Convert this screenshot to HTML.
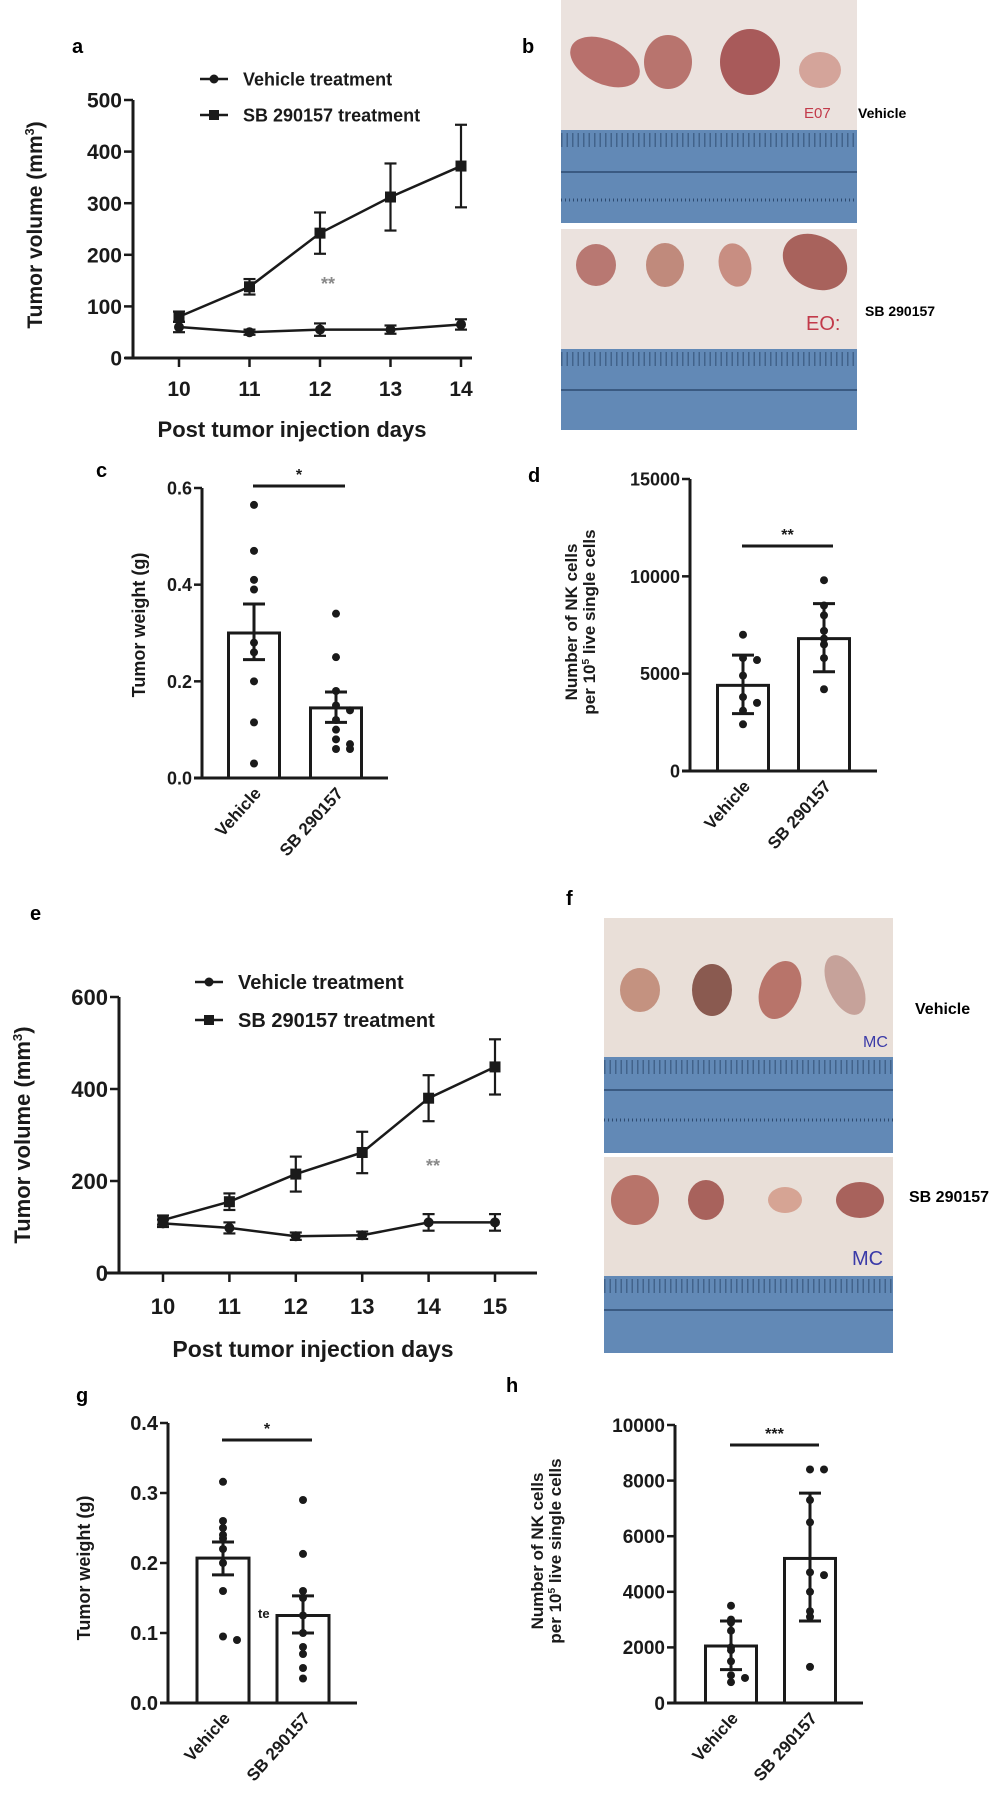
<!DOCTYPE html>
<html><head><meta charset="utf-8">
<style>
html,body{margin:0;padding:0;background:#fff;}
svg{display:block;font-family:"Liberation Sans",Arial,sans-serif;font-weight:bold;}
.n{font-family:"Liberation Sans Narrow","Liberation Sans",sans-serif;}
</style></head>
<body>
<svg id="fig" width="1003" height="1800" viewBox="0 0 1003 1800" xmlns="http://www.w3.org/2000/svg">
<text x="72" y="53" font-size="20">a</text>
<text x="522" y="53" font-size="20">b</text>
<text x="96" y="477" font-size="20">c</text>
<text x="528" y="482" font-size="20">d</text>
<text x="30" y="920" font-size="20">e</text>
<text x="566" y="905" font-size="20">f</text>
<text x="76" y="1402" font-size="20">g</text>
<text x="506" y="1392" font-size="20">h</text>

<g>
 <rect x="561" y="0" width="296" height="223" fill="#ebe2de"/>
 <rect x="561" y="130" width="296" height="93" fill="#6289b6"/>
 <line x1="561" y1="140" x2="857" y2="140" stroke="#2d4a70" stroke-width="14" stroke-dasharray="1.5 4" opacity="0.6"/>
 <line x1="561" y1="172" x2="857" y2="172" stroke="#2d4a70" stroke-width="1.5"/>
 <line x1="561" y1="200" x2="857" y2="200" stroke="#2d4a70" stroke-width="3" stroke-dasharray="1 3"/>
 <ellipse cx="605" cy="62" rx="37" ry="22" fill="#b8706c" transform="rotate(25 605 62)"/>
 <ellipse cx="668" cy="62" rx="24" ry="27" fill="#b8746e"/>
 <ellipse cx="750" cy="62" rx="30" ry="33" fill="#a85a5a"/>
 <ellipse cx="820" cy="70" rx="21" ry="18" fill="#d4a49a"/>
 <text x="804" y="118" font-size="15" fill="#c23a4a" font-weight="normal">E07</text>
 <rect x="561" y="229" width="296" height="201" fill="#ebe2de"/>
 <rect x="561" y="349" width="296" height="81" fill="#6289b6"/>
 <line x1="561" y1="359" x2="857" y2="359" stroke="#2d4a70" stroke-width="14" stroke-dasharray="1.5 4" opacity="0.6"/>
 <line x1="561" y1="390" x2="857" y2="390" stroke="#2d4a70" stroke-width="1.5"/>
 <ellipse cx="596" cy="265" rx="20" ry="21" fill="#b87872"/>
 <ellipse cx="665" cy="265" rx="19" ry="22" fill="#c08a7c"/>
 <ellipse cx="735" cy="265" rx="16" ry="22" fill="#c88e82" transform="rotate(-15 735 265)"/>
 <ellipse cx="815" cy="262" rx="34" ry="26" fill="#a8625c" transform="rotate(30 815 262)"/>
 <text x="806" y="330" font-size="20" fill="#c23a4a" font-weight="normal">EO:</text>
</g>
<text x="858" y="118" font-size="14">Vehicle</text>
<text x="865" y="316" font-size="14">SB 290157</text>

<g>
 <rect x="604" y="918" width="289" height="235" fill="#e9dfd8"/>
 <rect x="604" y="1057" width="289" height="96" fill="#6289b6"/>
 <line x1="604" y1="1067" x2="893" y2="1067" stroke="#2d4a70" stroke-width="14" stroke-dasharray="1.5 4" opacity="0.6"/>
 <line x1="604" y1="1090" x2="893" y2="1090" stroke="#2d4a70" stroke-width="1.5"/>
 <line x1="604" y1="1120" x2="893" y2="1120" stroke="#2d4a70" stroke-width="3" stroke-dasharray="1 3"/>
 <ellipse cx="640" cy="990" rx="20" ry="22" fill="#c49280"/>
 <ellipse cx="712" cy="990" rx="20" ry="26" fill="#8a5a50"/>
 <ellipse cx="780" cy="990" rx="20" ry="30" fill="#b8746a" transform="rotate(20 780 990)"/>
 <ellipse cx="845" cy="985" rx="17" ry="32" fill="#c6a29a" transform="rotate(-25 845 985)"/>
 <text x="863" y="1047" font-size="16" fill="#3a3aa8" font-weight="normal">MC</text>
 <rect x="604" y="1157" width="289" height="196" fill="#e9dfd8"/>
 <rect x="604" y="1276" width="289" height="77" fill="#6289b6"/>
 <line x1="604" y1="1286" x2="893" y2="1286" stroke="#2d4a70" stroke-width="14" stroke-dasharray="1.5 4" opacity="0.6"/>
 <line x1="604" y1="1310" x2="893" y2="1310" stroke="#2d4a70" stroke-width="1.5"/>
 <ellipse cx="635" cy="1200" rx="24" ry="25" fill="#b8746a"/>
 <ellipse cx="706" cy="1200" rx="18" ry="20" fill="#a8625c"/>
 <ellipse cx="785" cy="1200" rx="17" ry="13" fill="#d6a494"/>
 <ellipse cx="860" cy="1200" rx="24" ry="18" fill="#a8625c"/>
 <text x="852" y="1265" font-size="20" fill="#3a3aa8" font-weight="normal">MC</text>
</g>
<text x="915" y="1014" font-size="16">Vehicle</text>
<text x="909" y="1202" font-size="16">SB 290157</text>

<g id="charts"></g>
</svg>
<script>
const aDays = [10, 11, 12, 13, 14];
const aVehicle = [60, 50, 55, 55, 65];
const aVehicleErr = [10, 5, 12, 8, 10];
const aSB = [80, 138, 242, 312, 372];
const aSBErr = [10, 15, 40, 65, 80];
const aYTicks = [0, 100, 200, 300, 400, 500];
const eDays = [10, 11, 12, 13, 14, 15];
const eVehicle = [108, 98, 80, 82, 110, 110];
const eVehicleErr = [8, 12, 8, 8, 18, 18];
const eSB = [115, 155, 215, 262, 380, 448];
const eSBErr = [10, 18, 38, 45, 50, 60];
const eYTicks = [0, 200, 400, 600];
const cGroups = ["Vehicle", "SB 290157"];
const cMeans = [0.30, 0.145];
const cLow = [0.245, 0.115];
const cHigh = [0.36, 0.178];
const cDotsVehicle = [0.565, 0.47, 0.41, 0.39, 0.28, 0.26, 0.2, 0.115, 0.03];
const cDotsSB = [0.34, 0.25, 0.18, 0.15, 0.14, 0.12, 0.1, 0.08, 0.07, 0.06, 0.06];
const cYTicks = ["0.0", "0.2", "0.4", "0.6"];
const dMeans = [4400, 6800];
const dLow = [2950, 5100];
const dHigh = [5950, 8600];
const dDotsVehicle = [7000, 5800, 5700, 4900, 3800, 3500, 3100, 2400];
const dDotsSB = [9800, 8500, 8000, 7200, 6800, 6500, 5800, 4200];
const dYTicks = [0, 5000, 10000, 15000];
const gMeans = [0.207, 0.125];
const gLow = [0.183, 0.10];
const gHigh = [0.23, 0.153];
const gDotsVehicle = [0.316, 0.26, 0.25, 0.24, 0.235, 0.22, 0.2, 0.16, 0.095, 0.09];
const gDotsSB = [0.29, 0.213, 0.16, 0.15, 0.125, 0.1, 0.08, 0.07, 0.05, 0.035];
const gYTicks = ["0.0", "0.1", "0.2", "0.3", "0.4"];
const hMeans = [2050, 5200];
const hLow = [1200, 2950];
const hHigh = [2950, 7550];
const hDotsVehicle = [3500, 3000, 2900, 2600, 2000, 1900, 1500, 1000, 750, 900];
const hDotsSB = [8400, 8400, 7300, 6500, 4700, 4600, 4000, 3300, 3100, 1300];
const hYTicks = [0, 2000, 4000, 6000, 8000, 10000];

const NS = "http://www.w3.org/2000/svg";
const root = document.getElementById("charts");
function mk(tag, attrs, parent) {
  const e = document.createElementNS(NS, tag);
  for (const k in attrs) e.setAttribute(k, attrs[k]);
  (parent || root).appendChild(e);
  return e;
}
function line(x1, y1, x2, y2, w, p, col) {
  return mk("line", {x1: x1, y1: y1, x2: x2, y2: y2, stroke: col || "#1a1a1a", "stroke-width": w}, p);
}
function txt(x, y, s, size, anchor, p, extra) {
  const t = mk("text", Object.assign({x: x, y: y, "font-size": size, "text-anchor": anchor || "start", fill: "#1a1a1a"}, extra || {}), p);
  t.textContent = s;
  return t;
}

function lineChart(cfg) {
  const g = mk("g", {});
  
  
  const X = d => cfg.x0 + (d - cfg.days[0]) * cfg.dx;
  const Y = v => cfg.y0 - v * cfg.sy;
  const yAx = line(cfg.ax, Y(cfg.yTicks[cfg.yTicks.length - 1]), cfg.ax, cfg.y0 + 1.5, 3, g);
  
  
  const xAx = line(cfg.xs, cfg.y0, cfg.xe, cfg.y0, 3, g);
  
  
  cfg.yTicks.forEach(v => {
    line(cfg.ax - 9, Y(v), cfg.ax, Y(v), 2.5, g);
    const t = txt(cfg.ax - 11, Y(v) + cfg.tf * 0.36, String(v), cfg.tf, "end", g);
    
    
  });
  cfg.days.forEach(d => {
    line(X(d), cfg.y0, X(d), cfg.y0 + 9, 2.5, g);
    const t = txt(X(d), cfg.xly, String(d), cfg.tf, "middle", g, {"class": "n"});
    
    
  });
  const xt = txt(cfg.xtx, cfg.xty, "Post tumor injection days", cfg.tf + 1, "middle", g, {"class": "n"});
  
  
  const yt = mk("text", {x: 0, y: 0, "font-size": cfg.tf, "text-anchor": "middle", fill: "#1a1a1a",
    transform: "translate(" + cfg.ytx + "," + cfg.yty + ") rotate(-90)"}, g);
  yt.innerHTML = 'Tumor volume (mm<tspan dy="-8" font-size="' + (cfg.tf * 0.6) + '">3</tspan><tspan dy="8">)</tspan>';
  
  
  [[cfg.veh, cfg.vehErr, "circle", "series-vehicle"], [cfg.sb, cfg.sbErr, "square", "series-sb290157"]].forEach(s => {
    const sg = mk("g", {}, g);
    
    
    const pts = cfg.days.map((d, i) => X(d) + "," + Y(s[0][i])).join(" ");
    mk("polyline", {points: pts, fill: "none", stroke: "#1a1a1a", "stroke-width": 2.5}, sg);
    cfg.days.forEach((d, i) => {
      const x = X(d), hi = Y(s[0][i] + s[1][i]), lo = Y(s[0][i] - s[1][i]);
      line(x, hi, x, lo, 2.2, sg);
      line(x - 6, hi, x + 6, hi, 2.2, sg);
      line(x - 6, lo, x + 6, lo, 2.2, sg);
      let m;
      if (s[2] === "circle") m = mk("circle", {cx: x, cy: Y(s[0][i]), r: 5, fill: "#1a1a1a"}, sg);
      else m = mk("rect", {x: x - 5.5, y: Y(s[0][i]) - 5.5, width: 11, height: 11, fill: "#1a1a1a"}, sg);
      
      
    });
  });
  [[cfg.lg1, "circle", "Vehicle treatment"], [cfg.lg2, "square", "SB 290157 treatment"]].forEach(l => {
    const lg = mk("g", {}, g);
    
    
    line(cfg.lx, l[0], cfg.lx + 28, l[0], 2.5, lg);
    if (l[1] === "circle") mk("circle", {cx: cfg.lx + 14, cy: l[0], r: 4.5, fill: "#1a1a1a"}, lg);
    else mk("rect", {x: cfg.lx + 9, y: l[0] - 5, width: 10, height: 10, fill: "#1a1a1a"}, lg);
    txt(cfg.lx + 43, l[0] + cfg.lf * 0.36, l[2], cfg.lf, "start", lg);
  });
  const st = txt(cfg.starX, cfg.starY, "**", 18, "middle", g, {fill: "#8a8a8a"});
  
  
}

lineChart({name: "chart-a", days: aDays, veh: aVehicle, vehErr: aVehicleErr, sb: aSB, sbErr: aSBErr, yTicks: aYTicks,
  x0: 179, dx: 70.5, y0: 358, sy: 258 / 500, ax: 133, xs: 125, xe: 472, tf: 21, xly: 396,
  xtx: 292, xty: 437, ytx: 42, yty: 225, lx: 200, lg1: 79, lg2: 115, lf: 18, starX: 328, starY: 290});
lineChart({name: "chart-e", days: eDays, veh: eVehicle, vehErr: eVehicleErr, sb: eSB, sbErr: eSBErr, yTicks: eYTicks,
  x0: 163, dx: 66.4, y0: 1273, sy: 276 / 600, ax: 119, xs: 107, xe: 537, tf: 22, xly: 1314,
  xtx: 313, xty: 1357, ytx: 30, yty: 1135, lx: 195, lg1: 982, lg2: 1020, lf: 20, starX: 433, starY: 1172});

function barChart(cfg) {
  const g = mk("g", {});
  
  
  const yMax = Number(cfg.yTicks[cfg.yTicks.length - 1]);
  const Y = v => cfg.y0 - v / yMax * (cfg.y0 - cfg.yTop);
  const yAx = line(cfg.ax, cfg.yTop, cfg.ax, cfg.y0 + 1.5, 3, g);
  
  
  const xAx = line(cfg.ax - 8, cfg.y0, cfg.xe, cfg.y0, 3, g);
  
  
  cfg.yTicks.forEach(v => {
    line(cfg.ax - 8, Y(Number(v)), cfg.ax, Y(Number(v)), 2.5, g);
    const t = txt(cfg.ax - 10, Y(Number(v)) + cfg.tf * 0.36, String(v), cfg.tf, "end", g, {"class": "n"});
    
    
  });
  const dots = [cfg.dotsV, cfg.dotsS];
  cGroups.forEach((name, i) => {
    const cx = cfg.cx[i];
    const bg = mk("g", {}, g);
    
    
    mk("rect", {x: cx - cfg.bw / 2, y: Y(cfg.means[i]), width: cfg.bw, height: cfg.y0 - Y(cfg.means[i]), fill: "#fff", stroke: "#1a1a1a", "stroke-width": 3}, bg);
    line(cx, Y(cfg.high[i]), cx, Y(cfg.low[i]), 3, bg);
    line(cx - 11, Y(cfg.high[i]), cx + 11, Y(cfg.high[i]), 3, bg);
    line(cx - 11, Y(cfg.low[i]), cx + 11, Y(cfg.low[i]), 3, bg);
    const arr = dots[i];
    const seen = {};
    arr.forEach((v, k) => {
      const key = Math.round(Y(v) / 7);
      const n = seen[key] || 0; seen[key] = n + 1;
      const off = n === 0 ? 0 : (n % 2 ? 1 : -1) * Math.ceil(n / 2) * 14;
      const d = mk("circle", {cx: cx + off, cy: Y(v), r: 4, fill: "#1a1a1a"}, bg);
      
      
    });
    const lab = mk("text", {x: 0, y: 0, "font-size": cfg.lf, "text-anchor": "end", fill: "#1a1a1a",
      transform: "translate(" + (cx + 8) + "," + (cfg.y0 + 16) + ") rotate(-48)"}, g);
    lab.textContent = name;
    
    
  });
  const br = line(cfg.cx[0] - 1, cfg.brY, cfg.cx[1] + 9, cfg.brY, 3, g);
  
  
  const st = txt((cfg.cx[0] + cfg.cx[1]) / 2 + 4, cfg.brY - 6, cfg.star, 16, "middle", g);
  
  
  const yt = mk("text", {x: 0, y: 0, "font-size": cfg.yf, "text-anchor": "middle", fill: "#1a1a1a",
    transform: "translate(" + cfg.ytx + "," + cfg.yty + ") rotate(-90)"}, g);
  if (cfg.twoLine) {
    yt.innerHTML = '<tspan x="0" dy="0">Number of NK cells</tspan><tspan x="0" dy="' + (cfg.yf + 1) + '">per 10<tspan dy="-6" font-size="' + (cfg.yf * 0.6) + '">5</tspan><tspan dy="6"> live single cells</tspan></tspan>';
  } else yt.textContent = "Tumor weight (g)";
  
  
}

barChart({name: "chart-c", means: cMeans, low: cLow, high: cHigh, dotsV: cDotsVehicle, dotsS: cDotsSB, yTicks: cYTicks,
  ax: 202, y0: 778, yTop: 488, xe: 388, cx: [254, 336], bw: 51, tf: 18, lf: 17, brY: 486, star: "*",
  ytx: 145, yty: 625, yf: 18, twoLine: false});
barChart({name: "chart-d", means: dMeans, low: dLow, high: dHigh, dotsV: dDotsVehicle, dotsS: dDotsSB, yTicks: dYTicks,
  ax: 690, y0: 771, yTop: 479, xe: 877, cx: [743, 824], bw: 51, tf: 18, lf: 17, brY: 546, star: "**",
  ytx: 577, yty: 622, yf: 17, twoLine: true});
barChart({name: "chart-g", means: gMeans, low: gLow, high: gHigh, dotsV: gDotsVehicle, dotsS: gDotsSB, yTicks: gYTicks,
  ax: 168, y0: 1703, yTop: 1423, xe: 357, cx: [223, 303], bw: 52, tf: 20, lf: 17, brY: 1440, star: "*",
  ytx: 90, yty: 1568, yf: 18, twoLine: false});
barChart({name: "chart-h", means: hMeans, low: hLow, high: hHigh, dotsV: hDotsVehicle, dotsS: hDotsSB, yTicks: hYTicks,
  ax: 675, y0: 1703, yTop: 1425, xe: 863, cx: [731, 810], bw: 51, tf: 19, lf: 17, brY: 1445, star: "***",
  ytx: 543, yty: 1551, yf: 17, twoLine: true});

const te = txt(258, 1618, "te", 13, "start");


</script>
</body></html>
